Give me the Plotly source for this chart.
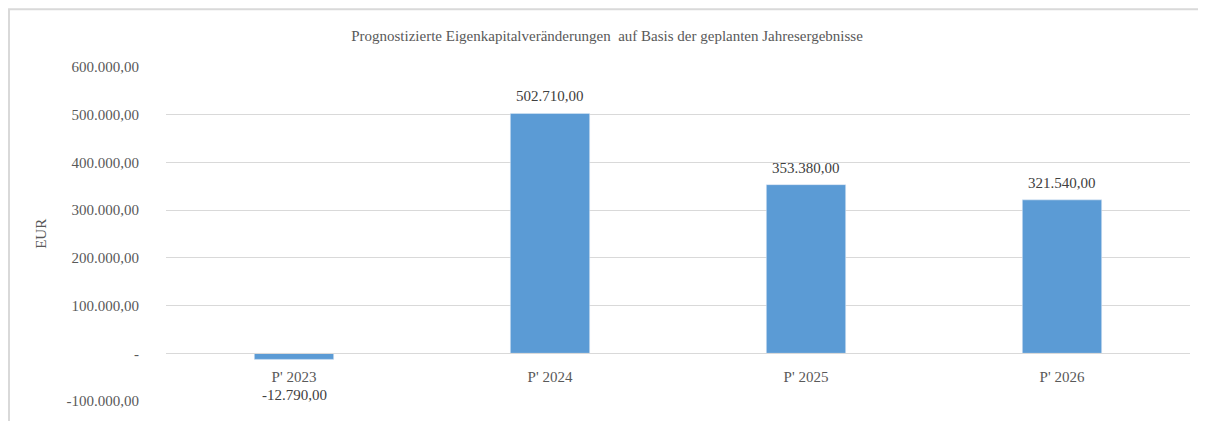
"""
Prognostizierte Eigenkapitalveränderungen als Säulendiagramm.
"""

import plotly.graph_objects as go

CATEGORIES = ["P' 2023", "P' 2024", "P' 2025", "P' 2026"]
VALUES = [-12790.00, 502710.00, 353380.00, 321540.00]
Y_TICKS = [-100000, 0, 100000, 200000, 300000, 400000, 500000, 600000]

TITLE = "Prognostizierte Eigenkapitalveränderungen  auf Basis der geplanten Jahresergebnisse"
BAR_COLOR = "#5b9bd5"
GRID_COLOR = "#d9d9d9"
TEXT_COLOR = "#595959"
FONT = "Liberation Serif, Times New Roman, serif"
FONT_SIZE = 15

Y_MIN, Y_MAX = -100000, 600000


def fmt_de(value: float) -> str:
    """German number format with two decimals, zero shown as '-'."""
    if value == 0:
        return "-"
    s = f"{value:,.2f}"
    return s.replace(",", "X").replace(".", ",").replace("X", ".")


fig = go.Figure()

fig.add_trace(
    go.Bar(
        x=CATEGORIES,
        y=VALUES,
        marker_color=BAR_COLOR,
        width=0.31,
        showlegend=False,
        hoverinfo="skip",
    )
)

# Data labels: above positive bars, below the category label for negative ones
for cat, val in zip(CATEGORIES, VALUES):
    fig.add_annotation(
        x=cat,
        y=val,
        text=fmt_de(val),
        showarrow=False,
        yanchor="bottom" if val >= 0 else "top",
        yshift=7 if val >= 0 else -26,
        font={"size": FONT_SIZE, "color": "#404040", "family": FONT},
    )

# Axis title
fig.add_annotation(
    xref="paper",
    yref="paper",
    x=-0.132,
    y=0.50,
    text="EUR",
    textangle=-90,
    showarrow=False,
    font={"size": FONT_SIZE, "color": TEXT_COLOR, "family": FONT},
)

# Chart frame (left and top edge visible, rest runs off the picture)
fig.add_shape(
    type="rect",
    xref="paper",
    yref="paper",
    x0=-0.1533,
    x1=1.04,
    y0=-0.12,
    y1=1.1726,
    line={"color": GRID_COLOR, "width": 2},
    layer="below",
)

zero_pos = (0 - Y_MIN) / (Y_MAX - Y_MIN)

fig.update_layout(
    width=1198,
    height=413,
    plot_bgcolor="white",
    paper_bgcolor="white",
    font={"family": FONT, "color": TEXT_COLOR, "size": FONT_SIZE},
    margin={"l": 158, "r": 16, "t": 59, "b": 18},
    title={
        "text": TITLE,
        "x": 0.5,
        "xanchor": "center",
        "y": 0.932,
        "yanchor": "middle",
        "font": {"size": FONT_SIZE, "color": TEXT_COLOR, "family": FONT},
    },
    xaxis={
        "anchor": "free",
        "position": zero_pos,
        "showgrid": False,
        "showline": True,
        "linecolor": GRID_COLOR,
        "linewidth": 1,
        "ticks": "",
        "zeroline": False,
        "tickfont": {"size": FONT_SIZE, "color": TEXT_COLOR},
        "ticklabelstandoff": 10,
    },
    yaxis={
        "range": [Y_MIN, Y_MAX],
        "tickvals": Y_TICKS,
        "ticktext": [fmt_de(v) for v in Y_TICKS],
        "showgrid": True,
        "gridcolor": GRID_COLOR,
        "gridwidth": 1,
        "zeroline": False,
        "showline": False,
        "ticks": "",
        "ticklabelstandoff": 26,
        "tickfont": {"size": FONT_SIZE, "color": TEXT_COLOR},
    },
)

fig.write_html("out.html")
